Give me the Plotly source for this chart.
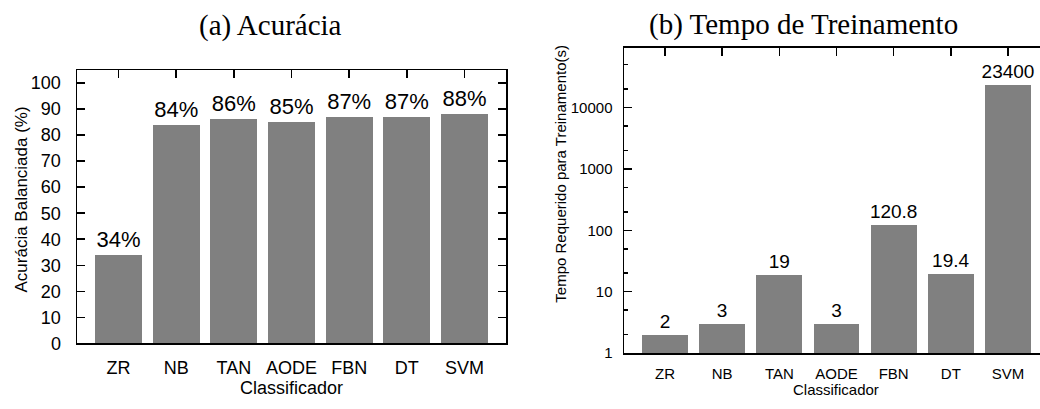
import plotly.graph_objects as go

categories = ["ZR", "NB", "TAN", "AODE", "FBN", "DT", "SVM"]
accuracy = [34, 84, 86, 85, 87, 87, 88]
train_time = [2, 3, 19, 3, 120.8, 19.4, 23400]
acc_ticks = [0, 10, 20, 30, 40, 50, 60, 70, 80, 90, 100]
time_ticks = [1, 10, 100, 1000, 10000]
time_minor = [2, 5, 20, 50, 200, 500, 2000, 5000, 20000, 50000]

W, H = 1040, 409
SANS = "Liberation Sans, Arial, sans-serif"
SERIF = "Liberation Serif, Times New Roman, serif"
BAR = "#808080"

def px(x):
    return x / W

def py(y):
    return 1 - y / H

fig = go.Figure()

fig.add_trace(go.Bar(
    x=categories, y=accuracy, width=0.815,
    marker=dict(color=BAR, line=dict(width=0)),
    text=[f"{v}%" for v in accuracy], textposition="outside",
    textfont=dict(family=SANS, size=22, color="black"),
    constraintext="none", cliponaxis=False,
    xaxis="x", yaxis="y", showlegend=False, hoverinfo="skip"))

fig.add_trace(go.Bar(
    x=categories, y=train_time, width=0.80,
    marker=dict(color=BAR, line=dict(width=0)),
    text=[f"{v:g}" for v in train_time], textposition="outside",
    textfont=dict(family=SANS, size=19, color="black"),
    constraintext="none", cliponaxis=False,
    xaxis="x2", yaxis="y2", showlegend=False, hoverinfo="skip"))

LW = 1.5
xr1 = [-0.72, 6.72]
xr2 = [-0.717, 6.56]

fig.update_layout(
    width=W, height=H,
    margin=dict(l=0, r=0, t=0, b=0),
    paper_bgcolor="white", plot_bgcolor="white",
    bargap=0,
    xaxis=dict(domain=[px(77), px(506)], anchor="y", type="category",
               range=xr1, showline=True, linecolor="black", linewidth=LW,
               mirror=True, ticks="", showgrid=False,
               tickfont=dict(family=SANS, size=18, color="black"),
               ticklabelstandoff=8),
    xaxis3=dict(overlaying="x", anchor="y", side="top", type="category",
                range=xr1, showline=False, showgrid=False,
                ticks="inside", ticklen=8, tickwidth=LW, tickcolor="black",
                showticklabels=False, tickmode="array",
                tickvals=categories),
    yaxis=dict(domain=[py(352), py(72)], anchor="x", range=[0, 104.9],
               showline=True, linecolor="black", linewidth=LW, mirror="ticks",
               ticks="inside", ticklen=8, tickwidth=LW, tickcolor="black",
               tickmode="array", tickvals=acc_ticks, showgrid=False,
               zeroline=False,
               tickfont=dict(family=SANS, size=18, color="black"),
               ticklabelstandoff=11),
    xaxis2=dict(domain=[px(624), 1.0], anchor="y2", type="category",
                range=xr2, showline=True, linecolor="black", linewidth=LW,
                mirror=True, ticks="", showgrid=False,
                tickfont=dict(family=SANS, size=15, color="black"),
                ticklabelstandoff=6),
    xaxis4=dict(overlaying="x2", anchor="y2", side="top", type="category",
                range=xr2, showline=False, showgrid=False,
                ticks="inside", ticklen=8, tickwidth=LW, tickcolor="black",
                showticklabels=False, tickmode="array",
                tickvals=categories),
    yaxis2=dict(domain=[py(362), py(49)], anchor="x2", type="log",
                range=[0, 4.97], showline=True, linecolor="black",
                linewidth=LW, mirror=False,
                ticks="inside", ticklen=8, tickwidth=LW, tickcolor="black",
                tickmode="array", tickvals=time_ticks,
                ticktext=[str(v) for v in time_ticks], showgrid=False,
                zeroline=False,
                minor=dict(tickvals=time_minor, ticks="inside", ticklen=4,
                           tickwidth=LW, tickcolor="black", showgrid=False),
                tickfont=dict(family=SANS, size=15, color="black"),
                ticklabelstandoff=7),
)

# invisible traces to register overlay axes
fig.add_trace(go.Scatter(x=categories, y=[None] * len(categories),
                         xaxis="x3", yaxis="y", showlegend=False,
                         hoverinfo="skip"))
fig.add_trace(go.Scatter(x=categories, y=[None] * len(categories),
                         xaxis="x4", yaxis="y2", showlegend=False,
                         hoverinfo="skip"))

ann = []
ann.append(dict(text="(a) Acurácia", x=px(270), y=py(26), xref="paper",
                yref="paper", xanchor="center", yanchor="middle",
                showarrow=False, font=dict(family=SERIF, size=29, color="black")))
ann.append(dict(text="(b) Tempo de Treinamento", x=px(803), y=py(25),
                xref="paper", yref="paper", xanchor="center",
                yanchor="middle", showarrow=False,
                font=dict(family=SERIF, size=29, color="black")))
ann.append(dict(text="Acurácia Balanciada (%)", x=px(21), y=py(204.5),
                xref="paper", yref="paper", xanchor="center",
                yanchor="middle", textangle=-90, showarrow=False,
                font=dict(family=SANS, size=17, color="black")))
ann.append(dict(text="Tempo Requerido para Treinamento(s)", x=px(561),
                y=py(178), xref="paper", yref="paper", xanchor="center",
                yanchor="middle", textangle=-90, showarrow=False,
                font=dict(family=SANS, size=15, color="black")))
ann.append(dict(text="Classificador", x=px(291), y=0, xref="paper",
                yref="paper", xanchor="center", yanchor="bottom",
                showarrow=False, borderpad=0,
                font=dict(family=SANS, size=18, color="black")))
ann.append(dict(text="Classificador", x=px(836), y=0, xref="paper",
                yref="paper", xanchor="center", yanchor="bottom",
                showarrow=False, borderpad=0,
                font=dict(family=SANS, size=15, color="black")))
fig.update_layout(annotations=ann)

reset_css = (
    "var s='margin:0;padding:0;overflow:hidden;width:1040px;height:409px;';"
    "document.documentElement.style.cssText=s;"
    "document.body.style.cssText=s;"
    "var g=document.getElementsByClassName('plotly-graph-div');"
    "for(var i=0;i<g.length;i++){g[i].style.display='block';"
    "g[i].parentNode.style.cssText='margin:0;padding:0;line-height:0;';}"
)

fig.write_html(
    "out.html",
    config={"displayModeBar": False, "staticPlot": True},
    post_script=reset_css,
)
